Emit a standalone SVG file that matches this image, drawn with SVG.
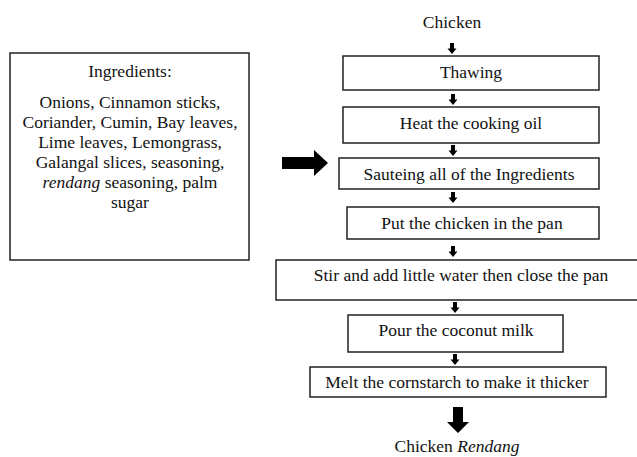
<svg xmlns="http://www.w3.org/2000/svg" xmlns:xlink="http://www.w3.org/1999/xlink" width="637" height="457" viewBox="0 0 637 457">
<style>
text{font-family:'Liberation Serif','Times New Roman',serif;font-size:17.5px;fill:#111;text-anchor:middle}
.box{fill:#fff;stroke:#222;stroke-width:1.5}
.arr{fill:#000}
</style>
<defs>
<path id="sa" d="M-2 0 h4 v5.5 h2.5 l-4.5 5.5 l-4.5 -5.5 h2.5 z"/>
</defs>
<rect width="637" height="457" fill="#fff"/>
<g id="ingredients">
<rect class="box" x="10" y="53" width="239" height="207"/>
<text x="130" y="77">Ingredients:</text>
<text x="130" y="108">Onions, Cinnamon sticks,</text>
<text x="130" y="128">Coriander, Cumin, Bay leaves,</text>
<text x="130" y="148">Lime leaves, Lemongrass,</text>
<text x="130" y="168">Galangal slices, seasoning,</text>
<text x="130" y="188"><tspan font-style="italic">rendang</tspan> seasoning, palm</text>
<text x="130" y="208">sugar</text>
</g>
<g id="chicken"><text x="452" y="28">Chicken</text></g>
<g id="thawing"><rect class="box" x="343" y="56" width="256" height="34"/><text x="471" y="78">Thawing</text></g>
<g id="heat"><rect class="box" x="343" y="107" width="256" height="36"/><text x="471" y="129">Heat the cooking oil</text></g>
<g id="sauteing"><rect class="box" x="339" y="158" width="260" height="31"/><text x="469" y="180">Sauteing all of the Ingredients</text></g>
<g id="put"><rect class="box" x="347" y="207" width="252" height="32"/><text x="472" y="229">Put the chicken in the pan</text></g>
<g id="stir"><rect class="box" x="276" y="260" width="364" height="40"/><text x="461" y="281">Stir and add little water then close the pan</text></g>
<g id="pour"><rect class="box" x="348" y="315" width="215" height="37"/><text x="456" y="336">Pour the coconut milk</text></g>
<g id="melt"><rect class="box" x="310" y="367" width="296" height="30"/><text x="457" y="388">Melt the cornstarch to make it thicker</text></g>
<g id="result"><text x="457" y="452">Chicken <tspan font-style="italic">Rendang</tspan></text></g>
<g id="connectors" class="arr">
<use xlink:href="#sa" x="452" y="43"/>
<use xlink:href="#sa" x="453" y="94"/>
<use xlink:href="#sa" x="453" y="145"/>
<use xlink:href="#sa" x="453" y="192"/>
<use xlink:href="#sa" x="453" y="246"/>
<use xlink:href="#sa" x="455" y="302"/>
<use xlink:href="#sa" x="455" y="354"/>
<path d="M282 157 H314 V150 L328 163 L314 176 V169 H282 Z"/>
<path d="M453 407 H463 V422 H469 L458 433 L447 422 H453 Z"/>
</g>
</svg>
